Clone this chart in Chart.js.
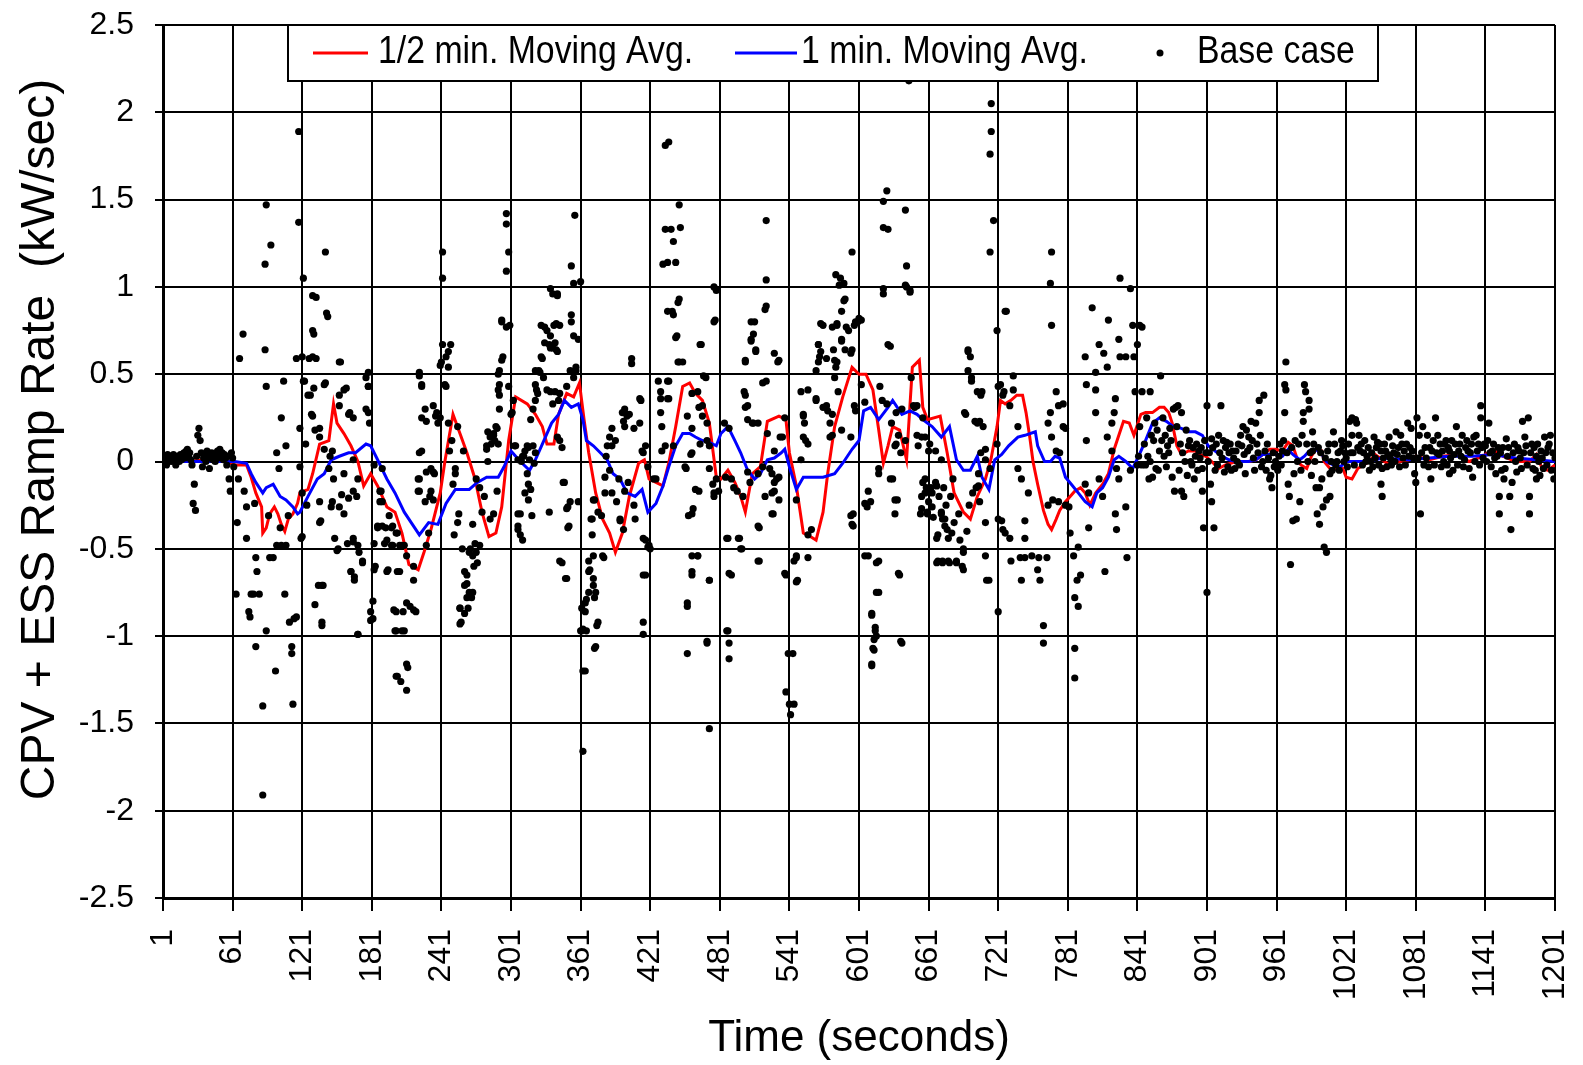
<!DOCTYPE html>
<html>
<head>
<meta charset="utf-8">
<script src="https://cdn.jsdelivr.net/npm/chart.js@4.4.1/dist/chart.umd.min.js"></script>
<style>
  html, body { margin: 0; padding: 0; background: #fff; }
  #wrap { width: 1583px; height: 1065px; position: relative; }
</style>
</head>
<body>
<div id="wrap"><canvas id="chart"></canvas></div>
<script>
// Axis ticks
const xTicks = [1, 61, 121, 181, 241, 301, 361, 421, 481, 541, 601, 661, 721, 781, 841, 901, 961, 1021, 1081, 1141, 1201];
const yTicks = [-2.5, -2, -1.5, -1, -0.5, 0, 0.5, 1, 1.5, 2, 2.5];

// 1/2 min. moving average  [time s, kW/sec]
const halfMinAvg = [
  [1,0],[20,0],[40,0.01],[55,0],[63,-0.02],[73,-0.02],[77,-0.09],[81,-0.18],[86,-0.26],[87,-0.41],[90,-0.38],[93,-0.3],
  [97,-0.26],[100,-0.3],[103,-0.36],[106,-0.4],[109,-0.33],[113,-0.3],[117,-0.24],[119,-0.18],[126,-0.16],[130,-0.07],
  [136,0.1],[144,0.12],[148,0.33],[151,0.22],[157,0.16],[163,0.09],[169,0],[174,-0.14],[180,-0.07],[186,-0.14],[194,-0.26],
  [201,-0.29],[207,-0.41],[213,-0.59],[221,-0.62],[226,-0.52],[232,-0.39],[240,-0.18],[244,0],[251,0.27],[257,0.16],
  [263,0.05],[270,-0.1],[276,-0.29],[282,-0.43],[288,-0.41],[293,-0.26],[299,0.12],[305,0.37],[315,0.33],[322,0.27],
  [328,0.2],[332,0.1],[338,0.1],[342,0.27],[349,0.39],[355,0.37],[360,0.45],[364,0.24],[368,0.05],[374,-0.18],[380,-0.33],
  [386,-0.41],[391,-0.52],[397,-0.41],[403,-0.2],[411,-0.01],[416,0.01],[420,-0.1],[426,-0.12],[432,-0.14],[437,-0.01],
  [443,0.2],[449,0.43],[455,0.45],[460,0.39],[466,0.35],[472,0.22],[478,-0.09],[482,-0.1],[488,-0.05],[494,-0.12],
  [499,-0.2],[503,-0.29],[509,-0.07],[516,-0.03],[522,0.23],[532,0.26],[538,0.24],[541,0.05],[547,-0.14],[553,-0.41],
  [559,-0.43],[564,-0.45],[570,-0.29],[574,-0.07],[580,0.2],[587,0.37],[595,0.54],[601,0.5],[607,0.5],[613,0.41],
  [618,0.18],[622,-0.01],[626,0.09],[630,0.2],[636,0.18],[642,0.01],[647,0.54],[653,0.58],[656,0.31],[660,0.24],
  [671,0.26],[677,0.05],[683,-0.18],[691,-0.29],[697,-0.33],[703,-0.2],[710,-0.1],[715,0.02],[720,0.2],[723,0.35],
  [727,0.33],[732,0.35],[737,0.38],[742,0.38],[745,0.28],[748,0.15],[751,0],[755,-0.13],[760,-0.28],[764,-0.36],
  [767,-0.39],[771,-0.33],[774,-0.28],[779,-0.23],[783,-0.2],[787,-0.17],[792,-0.15],[796,-0.18],[800,-0.25],[805,-0.18],
  [811,-0.13],[816,-0.07],[821,0.07],[825,0.15],[829,0.23],[834,0.22],[838,0.15],[844,0.27],[848,0.28],[854,0.28],
  [860,0.31],[864,0.31],[868,0.28],[871,0.22],[875,0.09],[879,0.04],[885,0.06],[891,0.06],[895,0.04],[900,0.03],[905,0],
  [911,-0.04],[917,-0.02],[926,0],[937,0],[943,0.01],[949,0.04],[955,0.07],[960,0.07],[966,0.06],[971,0.11],[975,0.09],
  [979,0.01],[982,-0.02],[987,-0.04],[991,0.03],[995,0.07],[1000,0.06],[1002,0],[1007,-0.04],[1013,-0.04],[1018,-0.04],
  [1021,-0.09],[1026,-0.1],[1031,-0.04],[1041,0],[1046,0.04],[1052,0.01],[1058,-0.02],[1067,0],[1075,0.01],[1081,0.03],
  [1093,0.01],[1104,0.03],[1116,0.04],[1127,0],[1139,0.03],[1147,0.07],[1156,0.03],[1167,0],[1179,0],[1185,0.04],
  [1190,-0.04],[1195,-0.05],[1201,-0.02]
];

// 1 min. moving average
const oneMinAvg = [
  [1,0],[30,0],[55,0],[63,0],[73,-0.01],[77,-0.07],[81,-0.12],[87,-0.18],[90,-0.15],[96,-0.13],[102,-0.2],[107,-0.22],
  [113,-0.26],[117,-0.3],[119,-0.29],[126,-0.2],[134,-0.1],[140,-0.07],[146,0.01],[153,0.03],[161,0.05],[167,0.05],
  [176,0.1],[180,0.09],[186,0.01],[194,-0.1],[201,-0.18],[209,-0.29],[217,-0.37],[222,-0.42],[230,-0.35],[238,-0.36],
  [245,-0.24],[253,-0.16],[265,-0.16],[272,-0.12],[280,-0.09],[290,-0.09],[295,-0.03],[301,0.06],[309,0],[317,-0.05],
  [322,0.01],[328,0.1],[336,0.22],[342,0.27],[347,0.35],[353,0.31],[359,0.33],[363,0.24],[366,0.12],[372,0.09],[378,0.05],
  [384,0.01],[389,-0.07],[395,-0.1],[401,-0.18],[408,-0.2],[414,-0.16],[419,-0.29],[426,-0.24],[432,-0.14],[437,-0.03],
  [443,0.09],[449,0.16],[455,0.16],[460,0.14],[466,0.12],[472,0.11],[478,0.09],[482,0.16],[488,0.2],[494,0.12],[499,0.05],
  [505,-0.05],[511,-0.1],[516,-0.07],[522,0.01],[528,0.02],[534,0.05],[537,0.07],[541,-0.03],[547,-0.16],[553,-0.09],
  [560,-0.09],[570,-0.09],[580,-0.07],[587,-0.01],[595,0.07],[601,0.12],[605,0.29],[611,0.31],[618,0.24],[626,0.31],
  [630,0.35],[638,0.27],[645,0.29],[651,0.27],[656,0.24],[664,0.2],[672,0.14],[679,0.2],[685,0.01],[691,-0.05],
  [697,-0.05],[703,0.03],[707,-0.09],[713,-0.16],[718,0.01],[724,0.04],[730,0.09],[738,0.14],[744,0.15],[753,0.17],
  [755,0.09],[761,0],[766,0],[770,0.03],[774,0.02],[779,-0.09],[784,-0.13],[790,-0.18],[796,-0.23],[802,-0.26],
  [806,-0.18],[811,-0.15],[816,-0.09],[821,0.01],[825,0.03],[831,0],[837,-0.04],[842,0.03],[848,0.12],[854,0.22],
  [860,0.25],[866,0.23],[872,0.2],[879,0.19],[885,0.17],[891,0.17],[897,0.15],[902,0.09],[908,0.06],[914,0.03],[920,0.01],
  [926,0],[937,0],[943,0.01],[949,0.04],[960,0.04],[966,0.03],[971,0.07],[975,0.04],[981,0.01],[985,0.03],[989,0.06],
  [995,0.07],[1000,0.04],[1004,0],[1010,-0.02],[1016,-0.03],[1021,0],[1040,0],[1052,0.02],[1075,0.01],[1110,0.03],
  [1130,0.03],[1147,0.04],[1167,0.02],[1185,0.01],[1201,0]
];

// Base case, one block per two minutes
const base0to2min = [
  [1,0.02],[2,0],[3,0.03],[4,-0.02],[5,0.04],[6,0.01],[7,0.03],[8,0],[9,0.02],[10,0.04],[11,0.01],[12,-0.02],[13,0.03],
  [14,0.02],[15,0],[16,0.04],[17,0.01],[18,0.03],[19,0.05],[20,0.02],[21,0.06],[22,0.07],[23,0.03],[24,0.05],[25,0.01],
  [26,-0.02],[27,-0.24],[28,-0.13],[29,-0.28],[30,0.03],[31,0.15],[32,0.19],[33,0.12],[34,0.05],[35,-0.03],[36,0.02],
  [37,0.04],[38,0],[39,0.06],[40,0.03],[41,-0.04],[42,0.02],[43,0.05],[44,0.01],[45,0.03],[46,0],[47,0.04],[48,0.06],
  [49,0.02],[50,0.07],[51,0.03],[52,0.05],[53,0.01],[54,0.04],[55,0.02],[56,-0.02],[57,0.03],[58,-0.1],[59,-0.17],
  [60,0.05],[61,0.02],[62,-0.03],[64,-0.76],[65,-0.35],[66,-0.1],[67,0.59],[70,0.73],[71,-0.17],[73,-0.26],[73,-0.44],
  [75,-0.86],[76,-0.89],[77,-0.76],[79,-0.76],[80,-0.24],[81,-0.55],[81,-1.06],[82,-0.63],[84,-0.76],[87,-1.4],[87,-1.91],
  [89,0.64],[89,1.13],[90,1.47],[90,0.43],[90,-0.97],[92,-0.31],[93,-0.55],[94,1.24],[96,-0.55],[98,-1.2],[99,0.05],
  [99,-0.48],[101,-0.04],[102,-0.38],[103,0.25],[103,-0.48],[105,0.46],[106,-0.76],[107,0.09],[107,-0.48],[109,-0.31],
  [110,-0.92],[112,-1.06],[112,-1.1],[113,-1.39],[114,-0.9],[116,0.59],[116,-0.89],[118,1.89],[118,1.37],[119,0.19],
  [119,-0.03],[120,-0.44]
];
const base2to4min = [
  [121,0.6],[122,1.05],[122,0.46],[124,0.1],[125,-0.25],[127,0.59],[128,0.38],[129,0.27],[130,0.95],[130,0.75],[131,0.42],
  [132,-0.82],[133,0.59],[135,-0.71],[136,0.19],[136,-0.23],[137,-0.34],[138,-0.94],[139,-0.71],[140,0.44],[141,1.2],
  [142,0.85],[144,-0.04],[147,0.06],[147,-0.23],[148,-0.1],[152,-0.5],[153,0.32],[153,-0.26],[154,0.57],[157,0.41],
  [157,-0.3],[160,-0.47],[162,0.28],[163,-0.63],[165,0.25],[165,-0.17],[165,-0.46],[166,-0.66],[168,-0.2],[169,-0.99],
  [170,-0.52],[173,-0.57],[178,0.51],[178,0.43],[178,0.28],[179,0.22],[180,-0.91],[180,-0.86],[183,-0.62],[183,-0.47],
  [183,-0.02],[186,-0.38],[188,-0.23],[189,-0.17],[190,-0.04],[192,-0.47],[193,-0.38],[195,-0.62],[198,-0.38],[198,-0.48],
  [202,-0.41],[202,-0.86],[202,-0.97],[202,-1.23],[205,-0.48],[205,-0.63],[206,-1.26],[208,-0.86],[209,-0.48],[209,-0.97],
  [211,-1.31],[212,-1.18],[214,-0.83],[219,-0.86],[222,0.51],[222,-0.1],[222,-0.17],[224,0.44],[224,0.06],[227,0.3],
  [227,-0.23],[228,0.23],[231,-0.2],[232,-0.04],[234,0.32],[235,-0.07],[237,0.28],[240,0.25],
  [133,0.94],[143,0.83],[131,0.73],[130,0.6],[153,0.57],[123,0.46],[141,0.45],[126,0.38],[159,0.42],[153,0.38],[176,0.48],
  [178,0.43],[161,0.27],[176,0.3],[130,0.26],[132,0.18],[136,0.14],[140,0.07],[145,0.03],[157,-0.07],[165,0.01],
  [169,-0.1],[121,-0.18],[146,-0.26],[155,-0.19],[161,-0.21],[121,-0.43],[136,-0.35],[149,-0.44],[151,-0.51],[165,-0.44],
  [169,-0.48],[173,-0.58],[163,-0.63],[166,-0.68],[138,-0.71],[138,-0.92],[169,-0.99],[182,-0.8],[182,-0.9],[186,-0.37],
  [190,-0.37],[188,-0.17],[190,-0.23],[194,-0.45],[199,-0.48],[184,-0.6],[194,-0.63],[203,-0.63],[196,-0.31],[199,-0.37],
  [203,-0.41],[207,-0.48],[211,-0.54],[217,-0.6],[217,-0.68],[200,-0.85],[211,-0.81],[217,-0.85],[201,-0.97],[207,-0.97],
  [211,-1.16],[203,-1.23],[221,-0.1],[221,-0.17],[228,-0.06],[234,-0.06],[232,-0.17],[234,-0.22],[230,-0.41],[228,-0.48],
  [222,0.05],[224,0.25],[236,0.26],[238,0.22],[224,0.43],[222,0.49],[240,0.55]
];
const base4to6min = [
  [242,1.2],[242,1.05],[242,0.67],[244,0.44],[245,0.6],[247,0.54],[247,0.22],[248,0.06],[250,0.12],[251,-0.13],[252,-0.42],
  [253,-0.04],[255,0.2],[256,-0.3],[257,-0.84],[258,-0.92],[260,0.06],[261,-0.71],[263,-0.65],[263,-0.78],[264,-0.84],
  [265,-0.52],[267,-0.78],[268,-0.36],[268,-0.75],[269,-0.6],[270,-0.47],[271,-0.52],[271,-0.1],[274,-0.15],[278,-0.2],
  [280,0.09],[281,0],[281,0.17],[283,0.14],[284,0.14],[286,0.15],[286,-0.3],[287,0.12],[289,0.19],[289,-0.17],[290,0.1],
  [291,0.52],[291,0.44],[291,0.38],[293,0.81],[294,0.6],[297,1.42],[297,1.36],[297,1.09],[299,1.2],[299,0.43],[300,0.78],
  [302,0.28],[303,0.35],[304,0.09],[307,-0.3],[307,-0.39],[309,-0.42],[310,0],[312,0.03],[313,0.06],[313,-0.18],[315,-0.07],
  [316,-0.13],[316,0.08],[319,-0.31],[320,0.09],[322,0.35],[323,0.41],[325,0.52],[327,0.6],[327,0.78],[329,0.48],[330,0.68],
  [332,0.75],[332,0.41],[335,0.65],[335,0.99],[335,0.4],[338,0.78],[339,0.68],[339,0.4],[340,0.64],[341,0.96],[342,0.35],
  [343,0.78],[343,0.12],[343,-0.57],[346,-0.12],[348,-0.67],[350,-0.26],[350,-0.38],[352,-0.23],[352,0.52],[353,0.8],
  [353,1.12],[355,0.72],[355,1.02],[356,1.41],[357,0.54],[359,-0.23],
  [245,0.43],[241,0.57],[247,0.63],[249,0.67],[253,-0.07],[255,-0.35],[259,-0.5],[266,-0.5],[268,-0.54],[272,-0.58],
  [261,-0.63],[263,-0.7],[265,-0.75],[257,-0.84],[261,-0.87],[257,-0.93],[274,-0.48],[276,-0.29],[283,-0.33],[280,0.07],
  [284,0.1],[286,0.16],[288,0.2],[293,0.58],[290,0.5],[290,0.41],[293,0.8],[297,0.77],[301,0.27],[291,0.3],[307,0.01],
  [309,-0.3],[307,-0.37],[311,-0.45],[318,-0.16],[316,-0.22],[349,-0.27],[351,-0.37],[305,0.09],[311,0.03],[315,0.09],
  [317,0.01],[321,-0.01],[322,0.05],[318,0.24],[320,0.3],[324,0.39],[322,0.44],[322,0.52],[326,0.51],[328,0.59],[330,0.77],
  [335,0.72],[337,0.65],[340,0.79],[341,0.63],[334,0.67],[337,0.96],[341,0.95],[353,0.84],[355,0.48],[349,0.43],[343,0.39],
  [337,0.33],[341,0.14],[345,0.08],[357,0.52],[359,0.7],[334,-0.29],[347,-0.12],[345,-0.58],[349,-0.67]
];
const base6to8min = [
  [361,-0.97],[362,-0.84],[362,-0.97],[363,-1.2],[363,-1.66],[365,-0.81],[366,-0.97],[368,-0.75],[368,-0.57],[369,-0.62],
  [371,-0.33],[371,-0.42],[372,-0.71],[373,-0.78],[373,-1.07],[373,-0.22],[375,-0.94],[379,-0.31],[381,-0.55],[382,-0.09],
  [383,0.03],[384,0.09],[386,0.14],[388,0.19],[388,-0.18],[392,-0.23],[394,-0.1],[395,-0.34],[397,0.28],[398,0.23],
  [398,-0.39],[399,0.3],[399,-0.17],[401,0.27],[402,-0.12],[405,0.59],[407,-0.25],[408,-0.33],[412,0.36],[412,0.22],
  [414,0.06],[415,-0.44],[415,-0.92],[415,-0.99],[417,0.09],[417,-0.65],[419,-0.49],[421,-0.5],[424,-0.1],[428,0.46],
  [430,0.4],[430,0.28],[431,0.2],[431,0.06],[432,1.13],[434,1.81],[434,1.33],[434,0.09],[436,0.86],[436,1.14],[436,0.36],
  [437,1.83],[437,0.46],[439,1.33],[440,0.86],[441,1.26],[441,0.09],[443,1.14],[444,0.72],[446,1.47],[446,0.93],[446,0.57],
  [447,1.34],[449,0.57],[452,-0.04],[453,-0.83],[453,-1.1],[456,0.04],[457,0.19],[457,-0.3],[457,-0.65],[462,0.4],
  [462,-0.54],[463,-0.17],[465,0.67],[466,0.32],[467,0.49],[469,0.48],[470,0.22],[470,-1.04],[472,0.09],[472,-0.04],
  [472,-0.68],[472,-1.53],[475,-0.13],[476,1],[476,-0.2],[477,0.81],[480,-0.17],
  [361,1.03],[365,-0.86],[363,-0.96],[365,-1.2],[366,-0.79],[368,-0.63],[372,-0.67],[374,-0.75],[376,-0.92],[374,-1.06],
  [372,-0.54],[380,-0.54],[370,-0.33],[376,-0.29],[382,-0.18],[386,-0.05],[388,0.09],[391,0.12],[372,-0.22],[395,-0.33],
  [401,0.26],[403,0.27],[405,0.56],[399,0.2],[407,0.19],[413,0.35],[415,0.05],[419,-0.03],[417,-0.45],[420,-0.48],
  [415,-0.65],[426,-0.1],[430,0.36],[437,0.36],[436,0.46],[441,0.84],[445,0.91],[443,0.71],[445,0.57],[464,0.67],
  [453,0.26],[457,0.39],[463,0.31],[466,0.26],[457,0.05],[464,0.1],[451,-0.03],[460,-0.16],[458,-0.27],[454,-0.31],
  [457,-0.54],[462,-0.54],[457,-0.63],[472,-0.68],[453,-0.81],[470,-1.03],[476,-0.18],[478,-0.1],[476,0.8],[478,0.98],
  [470,0.12]
];
const base8to10min = [
  [485,0.22],[486,-0.09],[488,-0.44],[488,-0.97],[489,0.19],[489,-1.04],[489,-1.13],[491,-0.1],[491,-0.65],[493,-0.15],
  [496,-0.17],[498,-0.44],[500,-0.5],[501,-0.2],[502,0.4],[503,0.57],[505,0.32],[508,0.7],[509,0.22],[511,0.8],[512,0.64],
  [514,0.22],[515,-0.38],[515,-0.57],[521,1.38],[521,1.04],[521,0.89],[521,0.46],[524,-0.04],[527,-0.3],[528,-0.17],
  [528,0.06],[530,-0.1],[531,0.57],[535,0.14],[537,0.25],[538,-0.65],[538,-1.32],[540,-1.1],[541,-1.39],[542,-1.45],
  [544,-1.1],[545,-1.39],[547,-0.55],[547,-0.22],[548,-0.68],[551,0.4],[553,0.27],[554,0.22],[555,0.12],[557,0.1],
  [557,-0.42],[557,-0.55],[560,-0.39],[564,0.36],[566,0.67],[567,0.6],[570,0.78],[573,0.32],[573,0.59],[576,0.22],
  [578,0.15],[578,0.77],[579,0.64],[580,0.48],[581,1.07],[581,0.54],[582,0.78],[582,0.57],[583,0.4],[585,1.05],[586,0.86],
  [586,0.7],[588,1.02],[589,0.93],[589,0.64],[592,0.75],[595,1.2],[595,0.64],[595,-0.36],[596,-0.3],[597,0.78],[597,0.32],
  [600,0.8],
  [487,-0.44],[497,-0.44],[499,-0.5],[489,-0.64],[487,-0.97],[503,0.58],[503,0.38],[508,0.8],[520,0.87],[510,0.73],
  [508,0.69],[512,0.63],[518,0.45],[503,0.31],[505,0.24],[510,0.22],[522,0.16],[533,0.14],[532,0.58],[528,0.62],
  [505,-0.06],[507,-0.12],[514,-0.07],[518,-0.03],[526,-0.07],[528,-0.12],[532,-0.09],[526,-0.18],[520,-0.2],[532,-0.22],
  [514,-0.37],[526,-0.3],[514,-0.57],[537,-0.64],[547,-0.54],[545,-0.57],[547,-0.69],[551,0.01],[553,0.26],[553,0.14],
  [564,0.35],[568,0.79],[566,0.67],[568,0.63],[566,0.57],[564,0.52],[570,0.31],[574,0.29],[578,0.27],[580,0.58],
  [582,0.79],[590,0.77],[588,0.92],[586,0.69],[594,0.62],[598,0.8],[584,1.01],[576,0.14],[586,0.18],[594,0.14],
  [598,0.29],[557,0.41],[594,-0.31],[596,-0.37]
];
const base10to12min = [
  [603,0.81],[603,0.44],[606,0.34],[608,-0.26],[609,-0.17],[609,-0.54],[611,-0.23],[612,-0.87],[612,-1.16],[613,-1.07],
  [615,-0.95],[616,-1],[618,-0.04],[618,-0.57],[618,-0.75],[619,0.43],[621,0.35],[622,1.49],[622,1.34],[622,0.99],
  [625,1.55],[625,0.33],[626,1.33],[626,0.67],[628,-0.1],[629,0.22],[632,0.09],[632,-0.22],[632,-0.3],[633,0.28],
  [635,0.15],[636,-0.65],[638,0.3],[638,-1.04],[641,1.44],[641,0.12],[642,1.12],[642,1],[644,2.18],[645,0.97],[646,0.48],
  [648,0.32],[651,0.15],[651,0.32],[652,0.09],[654,-0.3],[655,-0.2],[656,0.25],[658,-0.1],[658,0.14],[659,-0.15],
  [660,-0.3],[661,-0.23],[661,0.06],[663,-0.15],[664,-0.26],[665,-0.32],[667,-0.12],[667,0.06],[669,-0.42],[669,-0.57],
  [670,-0.2],[672,-0.3],[673,-0.57],[674,-0.15],[675,-0.33],[676,-0.25],[677,-0.39],[678,-0.44],[678,-0.57],[680,-0.2],
  [682,-0.1],[683,-0.35],[685,-0.57],[687,-0.3],[688,-0.45],[690,-0.6],[691,-0.5],[692,0.28],[694,-0.4],[695,0.64],
  [696,-0.25],[698,0.48],[699,-0.18],[701,0.23],[702,-0.15],[703,0.4],[705,0.23],[705,-0.23],[707,0.4],[708,0.2],
  [710,0.07],[710,-0.54],[713,-0.68],[714,-0.04],[714,1.76],[714,1.2],[715,2.05],[715,1.89],[717,1.38],[720,0.1],
  [601,0.82],[606,-0.54],[616,-0.58],[616,-0.75],[612,-0.88],[615,-0.97],[614,-1.02],[614,-1.08],[612,-1.17],[637,-1.03],
  [635,-0.64],[606,-0.24],[618,-0.07],[630,-0.1],[634,-0.22],[628,0.66],[622,0.96],[641,1.01],[645,0.98],[633,0.1],
  [637,0.05],[649,0.31],[655,0.14],[656,-0.12],[658,-0.18],[660,-0.29],[655,-0.27],[664,-0.18],[668,-0.14],[672,-0.29],
  [673,-0.33],[675,-0.37],[681,-0.41],[668,-0.44],[668,-0.58],[673,-0.58],[679,-0.58],[685,-0.58],[691,-0.52],[691,-0.62],
  [662,0.1],[672,0.01],[693,0.27],[695,0.63],[697,0.6],[695,0.52],[698,0.46],[706,0.38],[703,0.22],[706,0.05],[710,0.01],
  [704,-0.07],[704,-0.14],[710,-0.35],[711,-0.68],[720,0.75]
];
const base12to14min = [
  [721,-0.86],[721,0.43],[721,-0.33],[723,0.44],[724,-0.34],[725,0.38],[725,-0.39],[726,0.4],[727,0.86],[727,-0.41],
  [728,0.86],[731,0.32],[731,-0.44],[732,-0.57],[734,0.41],[734,0.49],[738,0.2],[738,-0.04],[740,-0.55],[741,-0.1],
  [741,-0.68],[744,-0.34],[744,-0.44],[744,-0.55],[747,-0.18],[750,-0.54],[755,-0.62],[756,-0.55],[757,-0.68],[760,-0.94],
  [760,-1.04],[763,-0.55],[764,0.22],[764,-0.25],[766,1.02],[766,0.28],[767,1.2],[767,0.78],[767,0.14],[768,-0.22],
  [771,0.4],[771,0.06],[773,0.32],[773,-0.23],[774,0.05],[777,0.33],[777,0.2],[779,0.19],[779,-0.25],[782,-0.26],
  [783,-0.41],[786,-0.54],[787,-1.07],[787,-1.24],[787,-0.78],[789,-0.68],[790,-0.83],[790,-0.49],[792,-0.65],[796,0.6],
  [796,-0.13],[797,0.44],[797,0.12],[799,-0.38],[799,-0.18],[802,0.88],[805,0.51],[805,0.41],[805,0.28],[808,0.67],
  [808,-0.1],[811,-0.2],[812,0.62],[813,-0.63],[815,0.54],[815,0.14],[816,0.81],[819,0.06],[819,0.22],[821,0.28],
  [822,0.36],[822,-0.3],[823,-0.04],[823,-0.39],[825,0.7],[825,-0.1],[826,1.05],[826,0.6],[831,0.6],[831,-0.26],
  [832,-0.55],[835,0.99],[835,-0.05],[837,0.78],[838,0.6],[839,0.4]
];
const base14to16min = [
  [841,0.67],[841,-0.02],[842,0.03],[843,0.78],[843,0.2],[845,0.77],[845,0.4],[845,-0.02],[847,0.1],[848,-0.02],[849,0.25],
  [850,0.03],[851,-0.1],[852,0.4],[852,0],[853,0.15],[854,-0.09],[855,0.12],[856,0.22],[857,-0.04],[858,0.18],[859,-0.05],
  [860,0.06],[861,0.49],[862,0.12],[863,0.25],[864,0.03],[865,0.15],[866,-0.03],[867,0.09],[868,0.05],[869,0.19],
  [870,0.12],[871,-0.09],[872,0.3],[873,-0.17],[874,0.31],[875,0.2],[876,0.32],[877,-0.05],[878,0.1],[879,0.28],
  [879,-0.17],[880,0.05],[881,-0.2],[882,0],[883,0.18],[884,-0.08],[885,0.09],[886,0.12],[887,0],[888,-0.02],[889,0.08],
  [890,-0.1],[891,0.03],[892,0.1],[893,-0.05],[894,0.06],[895,0.02],[896,0.08],[897,-0.04],[897,-0.17],[898,-0.38],
  [899,0.12],[900,0.05],[901,0.32],[901,-0.75],[902,0],[903,0.05],[904,-0.13],[905,0.13],[905,-0.23],[906,0.08],
  [907,-0.38],[908,-0.05],[909,0.1],[910,-0.02],[911,0.15],[912,0.05],[913,0.32],[914,0.02],[915,0.12],[916,-0.06],
  [917,0.08],[918,0.11],[919,-0.03],[920,0.05],[921,0.1],[922,-0.05],[923,0.06],[924,0.02],[925,-0.04],[926,0.06],
  [927,0],[928,0.1],[929,-0.02],[930,0.15],[931,0.09],[932,0.2],[933,0.04],[934,-0.07],[935,0.18],[936,0.06],[937,0.14],
  [938,0.08],[939,0.23],[940,0.12],[941,0.02],[942,-0.05],[943,0.22],[944,0.1],[945,0.05],[946,0.35],[946,0.28],
  [947,0.15],[948,-0.03],[949,0],[950,0.38],[951,0.06],[952,-0.05],[953,0.1],[954,0.02],[955,-0.1],[956,-0.08],
  [957,-0.15],[958,0.05],[959,-0.03],[960,0]
];
const base16to18min = [
  [962,-0.05],[963,0.03],[964,0.1],[965,-0.02],[966,0.06],[967,0.12],[968,0.44],[968,0.28],[969,0.57],[969,0.41],
  [970,0.05],[971,-0.13],[972,-0.2],[973,-0.59],[974,0.08],[975,-0.34],[976,-0.07],[977,0.12],[978,-0.33],[979,0],
  [980,0.1],[981,-0.23],[982,-0.05],[983,0.15],[984,0.28],[984,0.23],[985,0.44],[986,0.4],[987,0.1],[988,0],[989,0.35],
  [989,0.3],[990,0.05],[991,-0.08],[992,0.17],[992,0.06],[993,0.1],[994,0],[995,-0.15],[996,-0.3],[997,0.08],[998,-0.15],
  [998,-0.36],[999,0.05],[1000,-0.1],[1001,-0.26],[1002,-0.49],[1003,0.02],[1004,-0.52],[1004,-0.22],[1005,0.06],
  [1006,0.1],[1007,-0.2],[1007,-0.07],[1008,0],[1009,-0.05],[1010,0.17],[1011,0.1],[1012,-0.02],[1013,0],[1014,0.05],
  [1015,-0.05],[1016,0.06],[1017,0.12],[1018,0.09],[1019,0],[1020,0.05],[1021,0.02],[1022,-0.03],[1023,0.1],[1024,0.23],
  [1025,0.05],[1026,0.25],[1026,0.15],[1027,0.05],[1028,-0.02],[1029,0.24],[1030,0.22],[1031,0.08],[1032,0.15],
  [1033,0.06],[1034,0.1],[1035,-0.02],[1036,0.05],[1037,0.12],[1038,0],[1039,0.03],[1040,0.08],[1041,-0.05],[1042,0],
  [1043,0.05],[1044,-0.03],[1045,0.14],[1046,0.02],[1047,0.08],[1048,0.11],[1049,-0.02],[1050,0.1],[1051,0.06],
  [1051,-0.13],[1052,-0.04],[1052,-0.2],[1053,0.02],[1054,0.1],[1055,0.06],[1056,-0.03],[1057,0.04],[1058,0.14],
  [1059,0.02],[1060,-0.02],[1061,0.09],[1062,0.05],[1063,0],[1064,0.17],[1065,0.04],[1066,0.08],[1067,-0.03],[1068,0.15],
  [1069,0.1],[1070,0.02],[1071,0.06],[1072,-0.02],[1073,0.1],[1074,0.22],[1075,0.03],[1076,0.08],[1077,0.19],[1078,0.06],
  [1079,0.02],[1080,-0.07]
];
const base18to20min = [
  [1081,-0.12],[1082,0.25],[1083,0.02],[1084,0.15],[1085,-0.3],[1086,0.05],[1087,0.2],[1088,-0.02],[1089,0.08],[1090,0.02],
  [1091,0.15],[1092,-0.03],[1093,0.08],[1094,-0.1],[1095,0.06],[1096,0.12],[1097,-0.02],[1098,0.25],[1099,0.05],
  [1100,0.15],[1101,0.04],[1102,0.1],[1103,-0.03],[1104,0.06],[1105,0],[1106,0.1],[1107,0.12],[1108,-0.02],[1109,0.08],
  [1110,0.06],[1110,-0.07],[1111,0.02],[1112,0.12],[1113,-0.05],[1114,0.04],[1115,0.1],[1116,0.2],[1117,-0.02],[1118,0.06],
  [1119,0.1],[1120,0.03],[1121,0.15],[1122,-0.03],[1123,0.01],[1124,0.08],[1125,0.12],[1126,0.06],[1127,-0.04],[1128,0.05],
  [1129,0.1],[1130,-0.09],[1131,0.14],[1132,0],[1133,0.15],[1134,0.06],[1135,0.1],[1136,-0.02],[1137,0.32],[1137,0.25],
  [1138,0.08],[1139,0.02],[1140,0.1],[1141,0.09],[1142,0],[1143,0.12],[1144,0.22],[1145,0.05],[1146,-0.03],[1147,0.06],
  [1148,0.1],[1149,0.02],[1150,-0.07],[1151,0.03],[1152,0.08],[1153,-0.2],[1153,-0.3],[1154,0.05],[1155,-0.05],[1156,0.08],
  [1157,-0.1],[1158,-0.04],[1159,0.13],[1160,0.03],[1161,0.08],[1162,-0.2],[1163,-0.39],[1164,-0.12],[1165,0.05],
  [1166,0.1],[1167,0],[1168,-0.06],[1169,0.08],[1170,0.06],[1171,0.02],[1172,-0.04],[1173,0.23],[1174,0.05],[1175,0.14],
  [1176,0.09],[1177,-0.02],[1178,0.25],[1179,-0.2],[1179,-0.3],[1180,0.05],[1181,0.1],[1182,-0.04],[1183,0.08],
  [1184,-0.05],[1185,0.03],[1185,-0.1],[1186,0.1],[1187,0],[1188,-0.08],[1189,0.06],[1190,0.02],[1191,-0.04],[1192,0.14],
  [1193,0.05],[1194,-0.02],[1195,0.08],[1196,0.1],[1197,0.15],[1198,-0.05],[1199,0.05],[1200,-0.1],[1201,0.02]
];

const baseCase = [].concat(base0to2min, base2to4min, base4to6min, base6to8min, base8to10min,
  base10to12min, base12to14min, base14to16min, base16to18min, base18to20min);

const toPoints = list => list.map(([x, y]) => ({ x, y }));
const FONT = '"Liberation Sans", Arial, sans-serif';

// scale paddings would otherwise push the plot area inwards
const noScalePadding = s => { s.paddingTop = 0; s.paddingBottom = 0; s.paddingLeft = 0; s.paddingRight = 0; };

// y title sits a little above the middle of the axis in the original
const liftTitle = s => {
  s.drawTitle = function () {
    const ctx = this.ctx;
    ctx.save();
    ctx.translate(0, -22);
    Chart.Scale.prototype.drawTitle.call(this);
    ctx.restore();
  };
};

// legend drawn as a white box over the plot
const legendBox = {
  id: 'legendBox',
  afterDatasetsDraw(chart) {
    const { ctx, chartArea } = chart;
    const x0 = chartArea.left + 125, y0 = chartArea.top, w = 1090, h = 56;
    const cy = y0 + h / 2;
    const [dots, half, one] = chart.data.datasets;
    const label = (text, x) => {
      ctx.save();
      ctx.translate(x, cy);
      ctx.scale(0.89, 1);
      ctx.fillText(text, 0, 0);
      ctx.restore();
    };
    ctx.save();
    ctx.fillStyle = '#fff';
    ctx.fillRect(x0, y0, w, h);
    ctx.strokeStyle = '#000';
    ctx.lineWidth = 2;
    ctx.strokeRect(x0, y0, w, h);
    ctx.font = '38px ' + FONT;
    ctx.textBaseline = 'middle';
    ctx.textAlign = 'left';
    ctx.fillStyle = '#000';

    ctx.lineWidth = 3;
    ctx.strokeStyle = half.borderColor;
    ctx.beginPath(); ctx.moveTo(x0 + 25, cy); ctx.lineTo(x0 + 80, cy); ctx.stroke();
    label(half.label, x0 + 90);

    ctx.strokeStyle = one.borderColor;
    ctx.beginPath(); ctx.moveTo(x0 + 447, cy); ctx.lineTo(x0 + 509, cy); ctx.stroke();
    label(one.label, x0 + 513);

    ctx.beginPath(); ctx.arc(x0 + 872, cy, 3.5, 0, Math.PI * 2); ctx.fill();
    label(dots.label, x0 + 909);
    ctx.restore();
  }
};

new Chart(document.getElementById('chart'), {
  type: 'scatter',
  data: {
    datasets: [
      {
        label: 'Base case',
        data: toPoints(baseCase),
        backgroundColor: '#000',
        borderWidth: 0,
        pointRadius: 3.6,
        order: 0
      },
      {
        label: '1/2 min. Moving Avg.',
        data: toPoints(halfMinAvg),
        showLine: true,
        borderColor: '#ff0000',
        borderWidth: 3,
        pointRadius: 0,
        order: 2
      },
      {
        label: '1 min. Moving Avg.',
        data: toPoints(oneMinAvg),
        showLine: true,
        borderColor: '#0000ff',
        borderWidth: 3,
        pointRadius: 0,
        order: 1
      }
    ]
  },
  options: {
    responsive: true,
    maintainAspectRatio: false,
    animation: false,
    layout: { padding: { top: 25, right: 28, left: 0, bottom: 0 } },
    plugins: { legend: { display: false }, tooltip: { enabled: false } },
    scales: {
      x: {
        type: 'linear',
        min: 1,
        max: 1201,
        afterBuildTicks: s => { s.ticks = xTicks.map(v => ({ value: v })); },
        afterFit: s => { s.height = 167; noScalePadding(s); },
        ticks: {
          autoSkip: false, minRotation: 90, maxRotation: 90, padding: 18, color: '#000',
          font: { family: FONT, size: 32 },
          callback: v => String(v)
        },
        grid: { color: '#000', lineWidth: 2, tickLength: 13 },
        border: { color: '#000', width: 3 },
        title: { display: true, text: 'Time (seconds)', color: '#000', padding: 0, font: { family: FONT, size: 44 } }
      },
      y: {
        min: -2.5,
        max: 2.5,
        afterBuildTicks: s => { s.ticks = yTicks.map(v => ({ value: v })); },
        afterFit: s => { s.width = 163; noScalePadding(s); liftTitle(s); },
        ticks: { padding: 21, color: '#000', font: { family: FONT, size: 32 }, callback: v => String(v) },
        grid: { color: '#000', lineWidth: 2, tickLength: 8 },
        border: { color: '#000', width: 3 },
        title: { display: true, text: 'CPV + ESS Ramp Rate  (kW/sec)', color: '#000', padding: { top: 12, bottom: 0 }, font: { family: FONT, size: 48 } }
      }
    }
  },
  plugins: [legendBox]
});
</script>
</body>
</html>
